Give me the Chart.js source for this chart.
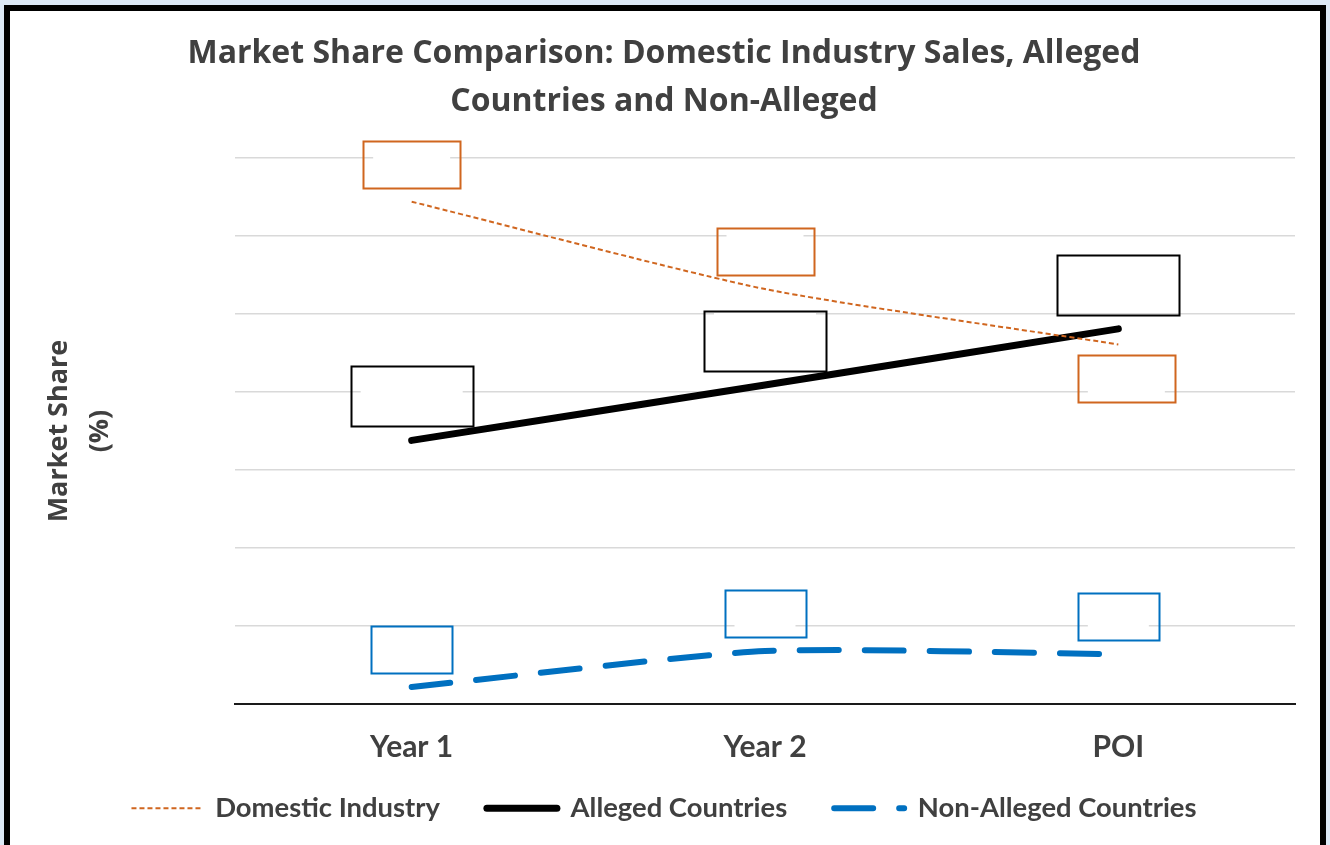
<!DOCTYPE html>
<html>
<head>
<meta charset="utf-8">
<script src="https://cdn.jsdelivr.net/npm/chart.js@4/dist/chart.umd.min.js"></script>
<style>
  html, body { margin: 0; padding: 0; background: #dde9f6; width: 1330px; height: 845px; overflow: hidden; }
  #frame { position: absolute; left: 4px; top: 5px; width: 1310px; height: 900px; border: 6px solid #000; background: #fff; }
  #wrap { position: absolute; left: 0; top: 0; width: 1330px; height: 845px; }
</style>
</head>
<body>
<div id="frame"></div>
<div id="wrap"><canvas id="c" width="1330" height="845"></canvas></div>
<script>
const categories = ['Year 1', 'Year 2', 'POI'];
const domesticIndustry = [64.4, 53.2, 46.1];
const allegedCountries = [33.8, 40.9, 48.1];
const nonAllegedCountries = [2.2, 6.8, 6.4];
const seriesNames = ['Domestic Industry', 'Alleged Countries', 'Non-Alleged Countries'];
const titleLines = ['Market Share Comparison: Domestic Industry Sales, Alleged', 'Countries and Non-Alleged'];
const yTitleLines = ['Market Share', '(%)'];

const TEXT = '#404040';
const FONT_A = '"Open Sans", Lato, sans-serif';
const FONT_B = 'Lato, "Open Sans", sans-serif';

// Empty data-label boxes drawn next to each point
const labelBoxPlugin = {
  id: 'labelBoxes',
  beforeDatasetsDraw(chart) {
    const ctx = chart.ctx;
    chart.data.datasets.forEach((ds, i) => {
      const box = ds.labelBox;
      if (!box) return;
      const meta = chart.getDatasetMeta(i);
      meta.data.forEach((pt, j) => {
        const place = box.place[j];
        const cx = pt.x + (box.dx ? box.dx[j] : 0);
        let top;
        if (place === 'below') top = pt.y + box.gapBelow;
        else top = pt.y - box.gap - box.h;
        const left = cx - box.w / 2;
        ctx.save();
        ctx.fillStyle = '#fff';
        ctx.fillRect(left + 10, top + 2, box.w - 20, box.h - 4);
        ctx.strokeStyle = box.color;
        ctx.lineWidth = 2;
        ctx.strokeRect(Math.round(left) + 0.5, Math.round(top) + 0.5, Math.round(box.w), Math.round(box.h));
        ctx.restore();
      });
    });
  }
};

new Chart(document.getElementById('c'), {
  type: 'line',
  data: {
    labels: categories,
    datasets: [
      {
        label: seriesNames[0],
        data: domesticIndustry,
        borderColor: '#D0661F',
        backgroundColor: '#D0661F',
        borderWidth: 2,
        borderDash: [5, 3],
        borderCapStyle: 'butt',
        tension: 0.2,
        pointRadius: 0,
        labelBox: { w: 97, h: 47, gap: 14, gapBelow: 11, color: '#D0661F', place: ['above', 'above', 'below'], dx: [0, 0, 8] }
      },
      {
        label: seriesNames[1],
        data: allegedCountries,
        borderColor: '#000000',
        backgroundColor: '#000000',
        borderWidth: 7,
        borderCapStyle: 'round',
        tension: 0.2,
        pointRadius: 0,
        labelBox: { w: 122, h: 60, gap: 14, color: '#000000', place: ['above', 'above', 'above'] }
      },
      {
        label: seriesNames[2],
        data: nonAllegedCountries,
        borderColor: '#0070C0',
        backgroundColor: '#0070C0',
        borderWidth: 6,
        borderDash: [39, 26],
        borderCapStyle: 'round',
        tension: 0.2,
        pointRadius: 0,
        labelBox: { w: 81, h: 47, gap: 14, color: '#0070C0', place: ['above', 'above', 'above'] }
      }
    ]
  },
  options: {
    responsive: false,
    animation: false,
    devicePixelRatio: 1,
    layout: { padding: { left: 33, right: 35, top: 10, bottom: 13 } },
    plugins: {
      title: {
        display: true,
        text: titleLines,
        color: TEXT,
        font: { family: FONT_A, size: 32, weight: 'bold', lineHeight: 1.5 },
        padding: { top: 20, bottom: 32 }
      },
      legend: {
        display: true,
        position: 'bottom',
        maxHeight: 105,
        labels: {
          usePointStyle: true,
          pointStyle: 'line',
          pointStyleWidth: 70,
          padding: 47,
          color: TEXT,
          font: { family: FONT_B, size: 27.4, weight: 'bold' },
          generateLabels(chart) {
            const items = Chart.defaults.plugins.legend.labels.generateLabels(chart);
            items.forEach(item => {
              const ds = chart.data.datasets[item.datasetIndex];
              item.lineDash = ds.borderDash || [];
              item.lineCap = ds.borderCapStyle || 'butt';
              item.lineWidth = ds.borderWidth;
              item.strokeStyle = ds.borderColor;
            });
            return items;
          }
        }
      },
      tooltip: { enabled: false }
    },
    scales: {
      x: {
        type: 'category',
        offset: true,
        grid: { display: false, drawTicks: false },
        border: { display: true, color: '#1a1a1a', width: 2 },
        ticks: { color: TEXT, padding: 25, font: { family: FONT_B, size: 30, weight: 'bold' } },
        afterFit(scale) {
          scale.height = 43.5;
          scale._computeLabelArea = function () { return undefined; };
        }
      },
      y: {
        min: 0,
        max: 70,
        ticks: { display: false, stepSize: 10 },
        grid: { color: '#d9d9d9', lineWidth: 1.5, drawTicks: false },
        border: { display: false },
        title: {
          display: true,
          text: yTitleLines,
          color: TEXT,
          font: { family: FONT_A, size: 27, weight: 'bold', lineHeight: 1.52 },
          padding: { top: 6, bottom: 0 }
        },
        afterFit(scale) { scale.width = 202; }
      }
    }
  },
  plugins: [labelBoxPlugin]
});
</script>
</body>
</html>
